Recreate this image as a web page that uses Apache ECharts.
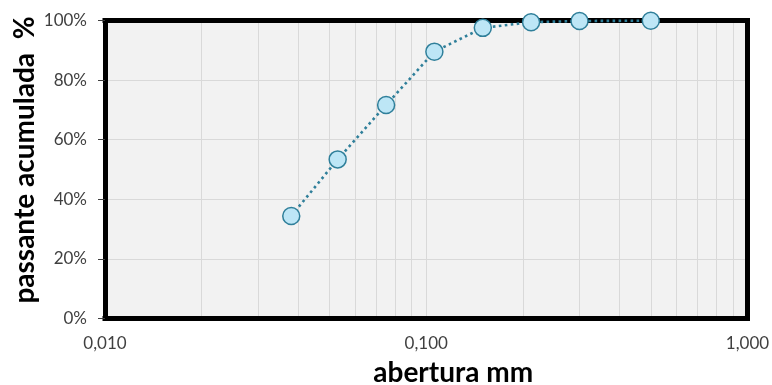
<!DOCTYPE html>
<html>
<head>
<meta charset="utf-8">
<script src="https://cdn.jsdelivr.net/npm/echarts@6/dist/echarts.min.js"></script>
<style>
html,body{margin:0;padding:0;background:#fff;}
#chart{width:772px;height:385px;}
</style>
</head>
<body>
<div id="chart"></div>
<script>
// sieve openings (mm) and cumulative passing (%)
const sizes = [0.038, 0.053, 0.075, 0.106, 0.150, 0.212, 0.300, 0.500];
const passing = [34.4, 53.4, 71.7, 89.6, 97.6, 99.5, 99.9, 100];
// x tick labels and log grid lines
const xLabelValues = [0.01, 0.1, 1];
const xGridValues = [0.01,0.02,0.03,0.04,0.05,0.06,0.07,0.08,0.09,
                     0.1,0.2,0.3,0.4,0.5,0.6,0.7,0.8,0.9,1];
const yTicks = [0, 20, 40, 60, 80, 100];

const FONT = 'Lato';
const borderLine = {show: true, onZero: false, lineStyle: {color: '#000', width: 5, cap: 'square'}};

const chart = echarts.init(document.getElementById('chart'), null, {renderer: 'canvas'});
chart.setOption({
  animation: false,
  backgroundColor: '#fff',
  grid: {left: 105, right: 24.5, top: 20.7, bottom: 66.7, show: true,
         outerBoundsMode: 'none', containLabel: false,
         backgroundColor: '#f2f2f2', borderWidth: 0},
  xAxis: [{
    type: 'log', logBase: 10, min: 0.01, max: 1, position: 'bottom',
    axisLine: borderLine,
    axisTick: {show: false, customValues: xGridValues},
    axisLabel: {customValues: xLabelValues, margin: 17, color: '#404040',
      fontFamily: FONT, fontSize: 17,
      formatter: v => Number(v).toFixed(3).replace('.', ',')},
    splitLine: {show: true, showMinLine: false, showMaxLine: false,
      lineStyle: {color: '#d9d9d9', width: 1}},
    name: 'abertura mm', nameLocation: 'middle', nameGap: 41, nameMoveOverlap: false,
    nameTextStyle: {fontFamily: FONT, fontSize: 28, fontWeight: 'bold', color: '#000',
      padding: [0, 0, 0, 54]}
  }, {
    type: 'log', logBase: 10, min: 0.01, max: 1, position: 'top',
    axisLine: borderLine, axisTick: {show: false}, axisLabel: {show: false},
    splitLine: {show: false}
  }],
  yAxis: [{
    type: 'value', min: 0, max: 100, interval: 20, position: 'left',
    axisLine: borderLine,
    axisTick: {show: true, length: 7, lineStyle: {color: '#404040', width: 1}},
    axisLabel: {margin: 18, color: '#404040', fontFamily: FONT, fontSize: 17,
      formatter: '{value}%'},
    splitLine: {show: true, showMinLine: false, showMaxLine: false,
      lineStyle: {color: '#d9d9d9', width: 1}},
    name: 'passante acumulada  %', nameLocation: 'middle', nameGap: 66, nameRotate: 90,
    nameMoveOverlap: false,
    nameTextStyle: {fontFamily: FONT, fontSize: 28, fontWeight: 'bold', color: '#000',
      padding: [0, 0, 0, 19]}
  }, {
    type: 'value', min: 0, max: 100, interval: 20, position: 'right',
    axisLine: borderLine, axisTick: {show: false}, axisLabel: {show: false},
    splitLine: {show: false}
  }],
  series: [{
    type: 'line', xAxisIndex: 0, yAxisIndex: 0, z: 3,
    data: sizes.map((s, i) => [s, passing[i]]),
    symbol: 'circle', symbolSize: 17,
    itemStyle: {color: '#bde6f6', borderColor: '#2f7f9a', borderWidth: 1.5},
    lineStyle: {color: '#2f7f9a', width: 2.6, type: [2.6, 3.4]},
    clip: false
  }]
});
</script>
</body>
</html>
